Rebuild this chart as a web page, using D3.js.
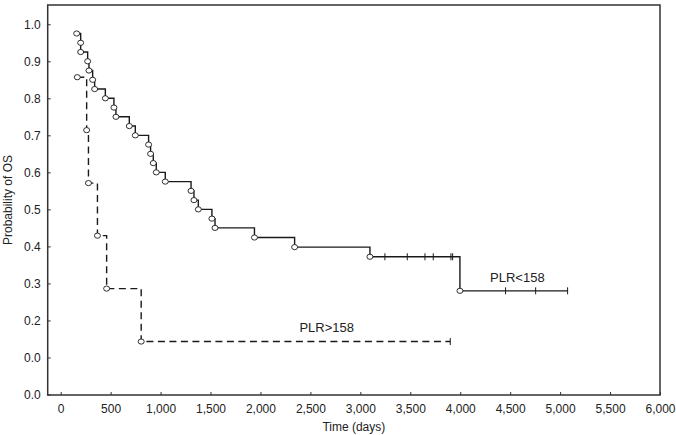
<!DOCTYPE html>
<html>
<head>
<meta charset="utf-8">
<script src="https://cdn.jsdelivr.net/npm/d3@7"></script>
<style>
  body { margin: 0; background: #fff; }
  svg text { font-family: "Liberation Sans", Arial, sans-serif; fill: #222; }
</style>
</head>
<body>
<div id="km_plot"></div>
<script>

// PLR<158 (solid) : event times and survival after each event
var lowDays = [160, 200, 200, 270, 283, 320, 340, 447, 533, 553, 687, 747, 880, 900, 927, 957, 1047, 1305, 1334, 1378, 1514, 1545, 1940, 2342, 3096, 3997]
var lowSurv = [0.975, 0.95, 0.925, 0.9, 0.875, 0.85, 0.825, 0.8, 0.775, 0.75, 0.725, 0.7, 0.675, 0.65, 0.625, 0.6, 0.575, 0.55, 0.525, 0.5, 0.475, 0.45, 0.424, 0.398, 0.372, 0.280]
var lowCensor = [3246, 3470, 3647, 3730, 3907, 3924, 4454, 4755, 5075]
var lowEnd = 5075

// PLR>158 (dashed)
var highDays = [166, 260, 278, 368, 460, 806]
var highSurv = [0.857, 0.714, 0.571, 0.429, 0.286, 0.143]
var highCensor = [3900]
var highEnd = 3900

// axis ticks
var xTicks = [0, 500, 1000, 1500, 2000, 2500, 3000, 3500, 4000, 4500, 5000, 5500, 6000]
var yTicks = [0, 0.1, 0.2, 0.3, 0.4, 0.5, 0.6, 0.7, 0.8, 0.9, 1.0]
var yTickLabels = ["0.0", "0.0", "0.2", "0.3", "0.4", "0.5", "0.6", "0.7", "0.8", "0.9", "1.0"]

var width = 676, height = 435
var frame = {left: 47.7, right: 660, top: 5, bottom: 395}

var svg = d3.select("#km_plot")
  .append("svg")
    .attr("width", width)
    .attr("height", height)

var x = d3.scaleLinear()
  .domain([-130, 6000])
  .range([frame.left, frame.right])

var y = d3.scaleLinear()
  .domain([0, 1.052])
  .range([394.5, frame.top])

// frame
svg.append("rect")
  .attr("x", frame.left)
  .attr("y", frame.top)
  .attr("width", frame.right - frame.left)
  .attr("height", frame.bottom - frame.top)
  .attr("fill", "none")
  .attr("stroke", "#333")
  .attr("stroke-width", 1.5)

// x axis (ticks inside)
var xAxis = svg.append("g")
  .attr("transform", "translate(0," + frame.bottom + ")")
  .call(d3.axisBottom(x).tickValues(xTicks).tickFormat(d3.format(",")).tickSizeInner(-3).tickSizeOuter(0).tickPadding(9))
xAxis.select(".domain").remove()
xAxis.selectAll("line").attr("stroke", "#333")
xAxis.selectAll("text").style("font-size", "12px").attr("fill", "#222")

// y axis
var yAxis = svg.append("g")
  .attr("transform", "translate(" + frame.left + ",0)")
  .call(d3.axisLeft(y).tickValues(yTicks).tickFormat(function(d, i) { return yTickLabels[i] }).tickSizeInner(-3).tickSizeOuter(0).tickPadding(7))
yAxis.select(".domain").remove()
yAxis.selectAll("line").attr("stroke", "#333")
yAxis.selectAll("text").style("font-size", "12px").attr("fill", "#222")

// axis titles
svg.append("text")
  .attr("x", (frame.left + frame.right) / 2)
  .attr("y", 431)
  .attr("text-anchor", "middle")
  .style("font-size", "12px")
  .text("Time (days)")

svg.append("text")
  .attr("transform", "translate(12," + ((frame.top + frame.bottom) / 2) + ") rotate(-90)")
  .attr("text-anchor", "middle")
  .style("font-size", "12px")
  .text("Probability of OS")

// step path builder
function stepPath(days, surv, end) {
  var p = d3.path()
  p.moveTo(x(days[0]), y(surv[0]))
  for (var i = 1; i < days.length; i++) {
    p.lineTo(x(days[i]), y(surv[i - 1]))
    p.lineTo(x(days[i]), y(surv[i]))
  }
  p.lineTo(x(end), y(surv[surv.length - 1]))
  return p.toString()
}

function drawCurve(days, surv, censor, end, dash) {
  var g = svg.append("g")

  g.append("path")
    .attr("d", stepPath(days, surv, end))
    .attr("fill", "none")
    .attr("stroke", "#1a1a1a")
    .attr("stroke-width", 1.4)
    .attr("stroke-dasharray", dash)

  // censor ticks
  g.selectAll(".cens")
    .data(censor)
    .enter()
    .append("line")
      .attr("x1", function(d) { return x(d) })
      .attr("x2", function(d) { return x(d) })
      .attr("y1", function(d) { return y(survAt(days, surv, d)) - 3.5 })
      .attr("y2", function(d) { return y(survAt(days, surv, d)) + 3.5 })
      .attr("stroke", "#1a1a1a")
      .attr("stroke-width", 1)

  // event circles
  g.selectAll(".evt")
    .data(days)
    .enter()
    .append("ellipse")
      .attr("cx", function(d) { return x(d) })
      .attr("cy", function(d, i) { return y(surv[i]) })
      .attr("rx", 3)
      .attr("ry", 2.6)
      .attr("fill", "#fff")
      .attr("stroke", "#1a1a1a")
      .attr("stroke-width", 0.9)
}

function survAt(days, surv, t) {
  var s = surv[0]
  for (var i = 0; i < days.length; i++) {
    if (days[i] <= t) s = surv[i]
  }
  return s
}

drawCurve(lowDays, lowSurv, lowCensor, lowEnd, null)
drawCurve(highDays, highSurv, highCensor, highEnd, "7,4.5")

// curve labels
svg.append("text")
  .attr("x", x(4572))
  .attr("y", y(0.317) + 4.5)
  .attr("text-anchor", "middle")
  .style("font-size", "13px")
  .text("PLR<158")

svg.append("text")
  .attr("x", x(2663))
  .attr("y", y(0.182) + 4.5)
  .attr("text-anchor", "middle")
  .style("font-size", "13px")
  .text("PLR>158")

</script>
</body>
</html>
